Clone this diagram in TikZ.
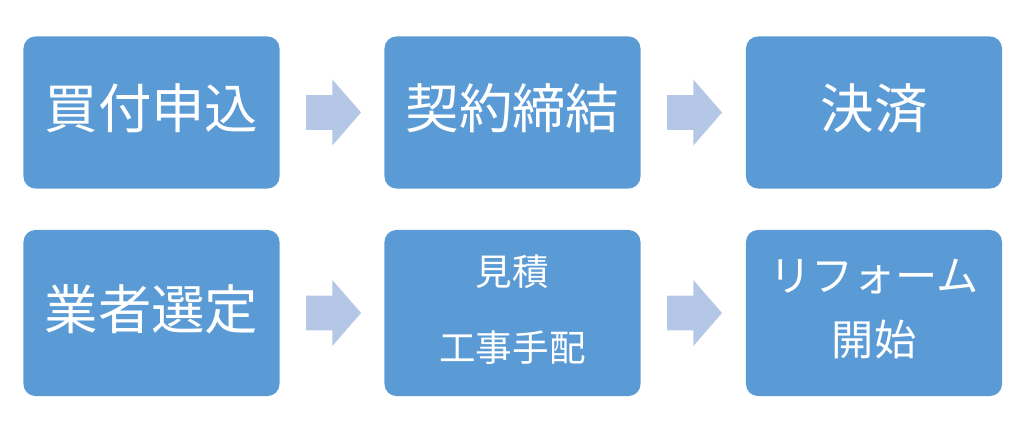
\documentclass[tikz,border=0pt]{standalone}
\usepackage{fontspec}
\newfontfamily\jpfont{Noto Sans CJK JP}
\usepackage{xcolor}
\usetikzlibrary{shapes.arrows, positioning}
\definecolor{stepblue}{HTML}{5B9BD5}
\definecolor{arrowblue}{HTML}{B4C7E7}

\begin{document}
\begin{tikzpicture}[x=0.025cm, y=-0.025cm,
  stepbox/.style={rectangle, rounded corners=0.3cm, fill=stepblue, text=white,
    minimum width=6.4cm, inner sep=0pt, align=center, font=\jpfont},
  bigtext/.style={font=\jpfont\fontsize{38}{44}\selectfont},
  nextarrow/.style={single arrow, fill=arrowblue, inner xsep=0pt, inner ysep=0.425cm,
    minimum height=1.375cm,
    single arrow head extend=0.39cm, single arrow tip angle=98}]
\useasboundingbox (0,0) rectangle (1018,425);

% top row: purchase
\node[stepbox, minimum height=3.8cm] (buy) at (151.5,112.5) {};
\node[bigtext, text=white] (buytxt) at (151.5,108) {買付申込};
\node[stepbox, minimum height=3.8cm] (contract) at (512.5,112.5) {};
\node[bigtext, text=white] (contracttxt) at (512.5,108) {契約締結};
\node[stepbox, minimum height=3.8cm] (pay) at (874,112.5) {};
\node[bigtext, text=white] (paytxt) at (874,108) {決済};

% bottom row: reform
\node[stepbox, minimum height=4.15cm] (pick) at (151.5,313) {};
\node[bigtext, text=white] (picktxt) at (151.5,309) {業者選定};
\node[stepbox, minimum height=4.15cm] (order) at (512.5,313) {};
\node[font=\jpfont\fontsize{26}{30}\selectfont, text=white] (ordertop) at (512.5,272) {見積};
\node[font=\jpfont\fontsize{26}{30}\selectfont, text=white] (orderbot) at (512.5,348) {工事手配};
\node[stepbox, minimum height=4.15cm] (start) at (874,313) {};
\node[font=\jpfont\fontsize{30}{34}\selectfont, text=white] (starttop) at (874,277) {リフォーム};
\node[font=\jpfont\fontsize{30}{34}\selectfont, text=white] (startbot) at (874,340) {開始};

% block arrows between the steps
\node[nextarrow] (a1) at (326,112.5) {};
\node[nextarrow] (a2) at (687,112.5) {};
\node[nextarrow] (a3) at (326,313) {};
\node[nextarrow] (a4) at (687,313) {};
\end{tikzpicture}
\end{document}
